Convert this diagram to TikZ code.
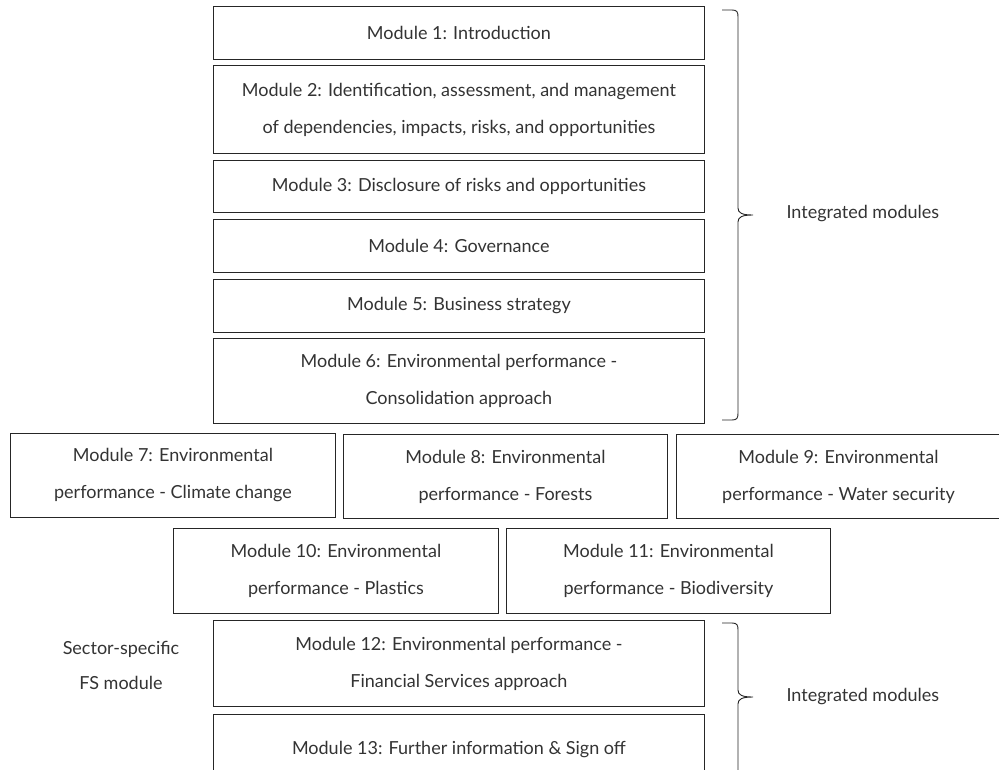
\documentclass[tikz,border=0pt]{standalone}
\usepackage{fontspec}
\setmainfont{Lato}
\begin{document}
\begin{tikzpicture}[x=1pt,y=-1pt,
  modbox/.style={draw=black!85, line width=0.9pt, anchor=north west, inner sep=0pt,
    align=center, text=black!80, font=\fontsize{18}{37}\selectfont},
  sidetext/.style={text=black!80, align=center, font=\fontsize{18}{35}\selectfont},
  bracepath/.style={draw=black!85, line width=0.9pt}]
\useasboundingbox (0,0) rectangle (999,769);
% modules 1-6 stacked in one column
\node[modbox, minimum width=491pt, minimum height=53pt] (m1) at (213,6) {Module 1: Introduction};
\node[modbox, minimum width=491pt, minimum height=88pt] (m2) at (213,65) {Module 2: Identification, assessment, and management\\of dependencies, impacts, risks, and opportunities};
\node[modbox, minimum width=491pt, minimum height=52pt] (m3) at (213,160) {Module 3: Disclosure of risks and opportunities};
\node[modbox, minimum width=491pt, minimum height=53pt] (m4) at (213,219) {Module 4: Governance};
\node[modbox, minimum width=491pt, minimum height=53pt] (m5) at (213,279) {Module 5: Business strategy};
\node[modbox, minimum width=491pt, minimum height=85pt] (m6) at (213,338) {Module 6: Environmental performance -\\Consolidation approach};
% environmental performance modules
\node[modbox, minimum width=325pt, minimum height=84pt] (m7) at (10,433) {Module 7: Environmental\\performance - Climate change};
\node[modbox, minimum width=324pt, minimum height=84pt] (m8) at (343,434) {Module 8: Environmental\\performance - Forests};
\node[modbox, minimum width=324pt, minimum height=84pt] (m9) at (676,434) {Module 9: Environmental\\performance - Water security};
\node[modbox, minimum width=325pt, minimum height=85pt] (m10) at (173,528) {Module 10: Environmental\\performance - Plastics};
\node[modbox, minimum width=324pt, minimum height=85pt] (m11) at (506,528) {Module 11: Environmental\\performance - Biodiversity};
% closing modules
\node[modbox, minimum width=491pt, minimum height=86pt] (m12) at (213,620) {Module 12: Environmental performance -\\Financial Services approach};
\node[modbox, minimum width=491pt, minimum height=70pt] (m13) at (213,714) {Module 13: Further information \& Sign off};
\node[sidetext] (fs) at (121,665) {Sector-specific\\FS module};
% upper brace
\coordinate (b1top) at (722,10);
\coordinate (b1tip) at (753,215);
\coordinate (b1bot) at (722,420);
\draw[bracepath] (b1top) -- (732,10) .. controls (737,10) and (738,12) .. (738,17)
  -- (738,208) .. controls (738,213) and (742,215) .. (b1tip)
  .. controls (742,215) and (738,217) .. (738,222)
  -- (738,413) .. controls (738,418) and (737,420) .. (732,420) -- (b1bot);
\node[sidetext, anchor=west] (int1) at (783,214) {Integrated modules};
% lower brace
\coordinate (b2top) at (722,623);
\coordinate (b2tip) at (753,697);
\coordinate (b2end) at (738,775);
\draw[bracepath] (b2top) -- (732,623) .. controls (737,623) and (738,625) .. (738,630)
  -- (738,690) .. controls (738,695) and (742,697) .. (b2tip)
  .. controls (742,697) and (738,699) .. (738,704) -- (b2end);
\node[sidetext, anchor=west] (int2) at (783,697) {Integrated modules};
\end{tikzpicture}
\end{document}
